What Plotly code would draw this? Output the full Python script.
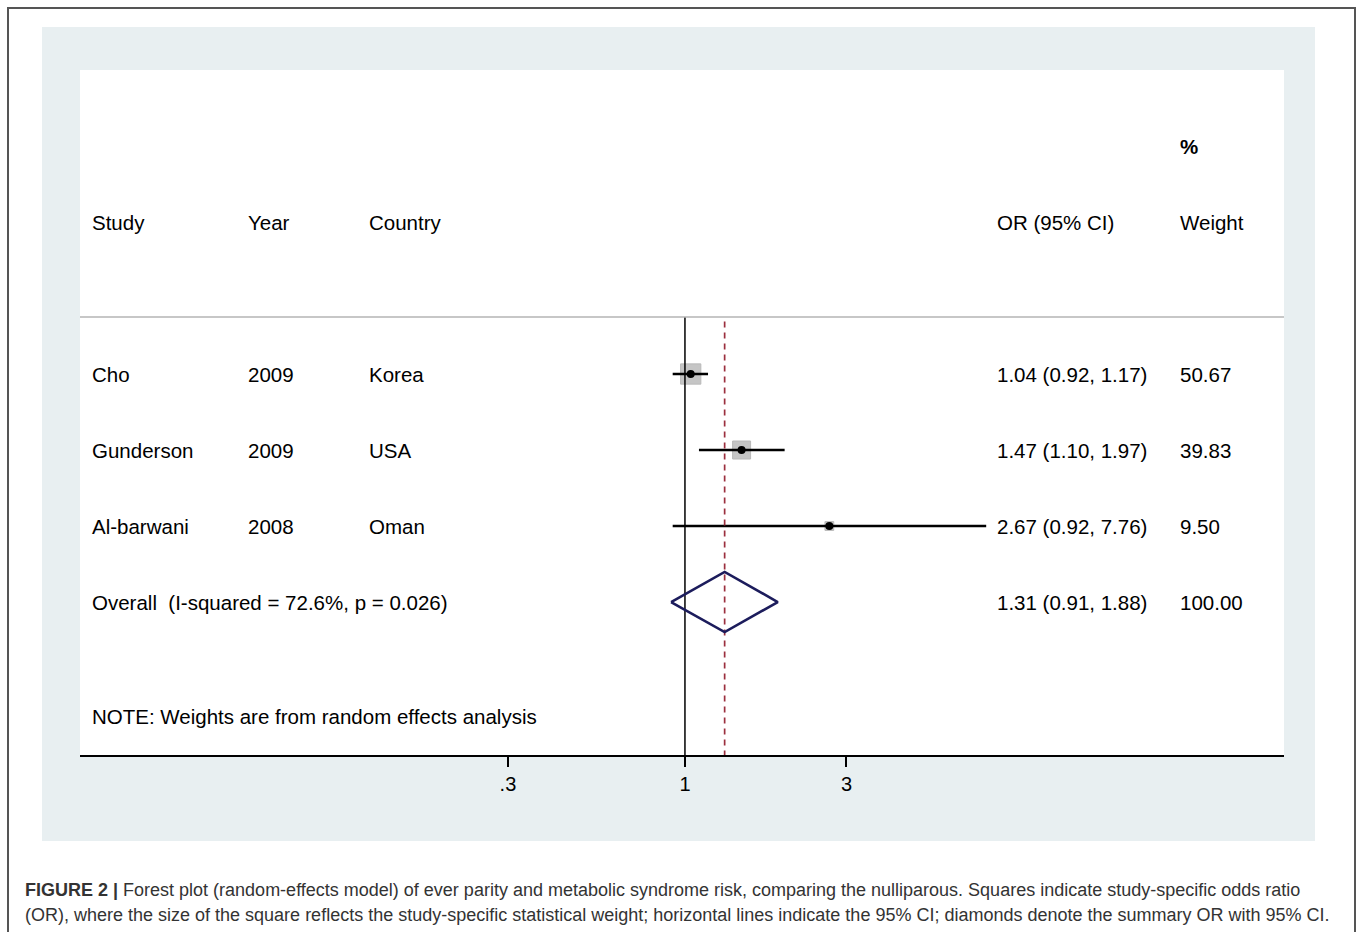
import plotly.graph_objects as go

# ---- data -----------------------------------------------------------------
studies = ["Cho", "Gunderson", "Al-barwani"]
years = ["2009", "2009", "2008"]
countries = ["Korea", "USA", "Oman"]
odds_ratio = [1.04, 1.47, 2.67]
ci_low = [0.92, 1.10, 0.92]
ci_high = [1.17, 1.97, 7.76]
weights = [50.67, 39.83, 9.50]

pooled_or = 1.31
pooled_low = 0.91
pooled_high = 1.88
pooled_label = "Overall&nbsp; (I-squared = 72.6%, p = 0.026)"
note = "NOTE: Weights are from random effects analysis"

tick_vals = [0.3, 1, 3]
tick_text = [".3", "1", "3"]

# ---- geometry helpers (page pixels -> paper coordinates) -------------------
W, H = 1358, 932
L, R, T, B = 80, 1284, 70, 755


def px(x):
    return (x - L) / (R - L)


def py(y):
    return (B - y) / (B - T)


FONT = "Liberation Sans, Arial, sans-serif"
rows = [1, 2, 3]
overall_row = 4

fig = go.Figure()

# weight squares, area proportional to the study weight
fig.add_trace(go.Scatter(
    x=odds_ratio, y=rows, mode="markers",
    marker=dict(symbol="square", size=[2.85 * w ** 0.5 for w in weights],
                color="#adadad", line=dict(color="#9c9c9c", width=1)),
    hoverinfo="skip", showlegend=False))

# confidence-interval lines
for i, r in enumerate(rows):
    fig.add_trace(go.Scatter(
        x=[ci_low[i], ci_high[i]], y=[r, r], mode="lines",
        line=dict(color="black", width=2.6), hoverinfo="skip", showlegend=False))

# point estimates
fig.add_trace(go.Scatter(
    x=odds_ratio, y=rows, mode="markers",
    marker=dict(symbol="circle", size=8, color="black"),
    hoverinfo="skip", showlegend=False))

# null line and pooled estimate line
fig.add_trace(go.Scatter(
    x=[1, 1], y=[0.25, 6.02], mode="lines",
    line=dict(color="black", width=1.5), hoverinfo="skip", showlegend=False))
fig.add_trace(go.Scatter(
    x=[pooled_or, pooled_or], y=[0.31, 6.02], mode="lines",
    line=dict(color="#9b2f3e", width=1.7, dash="6px,5px"),
    hoverinfo="skip", showlegend=False))

# pooled diamond
hh = 0.395
fig.add_trace(go.Scatter(
    x=[pooled_low, pooled_or, pooled_high, pooled_or, pooled_low],
    y=[overall_row, overall_row - hh, overall_row, overall_row + hh, overall_row],
    mode="lines", line=dict(color="#1c1c5c", width=2.6),
    hoverinfo="skip", showlegend=False))

annotations = []


def add_text(x, y, text, size=20.5, color="black", yref="y"):
    annotations.append(dict(
        x=px(x), y=y, xref="paper", yref=yref, text=text, showarrow=False,
        xanchor="left", yanchor="middle",
        font=dict(family=FONT, size=size, color=color)))


# header
add_text(1178, -2.0, "<b>%</b>")
add_text(90, -1.0, "Study")
add_text(246, -1.0, "Year")
add_text(367, -1.0, "Country")
add_text(995, -1.0, "OR (95% CI)")
add_text(1178, -1.0, "Weight")

# study rows
for i, r in enumerate(rows):
    add_text(90, r, studies[i])
    add_text(246, r, years[i])
    add_text(367, r, countries[i])
    add_text(995, r, f"{odds_ratio[i]:.2f} ({ci_low[i]:.2f}, {ci_high[i]:.2f})")
    add_text(1178, r, f"{weights[i]:.2f}")

add_text(90, overall_row, pooled_label)
add_text(995, overall_row, f"{pooled_or:.2f} ({pooled_low:.2f}, {pooled_high:.2f})")
add_text(1178, overall_row, f"{sum(weights):.2f}")
add_text(90, 5.5, note)

# caption
cap1 = ("<b>FIGURE 2 |</b> Forest plot (random-effects model) of ever parity and metabolic "
        "syndrome risk, comparing the nulliparous. Squares indicate study-specific odds ratio")
cap2 = ("(OR), where the size of the square reflects the study-specific statistical weight; "
        "horizontal lines indicate the 95% CI; diamonds denote the summary OR with 95% CI.")
add_text(23, py(890), cap1, size=18, color="#333333", yref="paper")
add_text(23, py(915), cap2, size=18, color="#333333", yref="paper")

shapes = [
    # outer frame
    dict(type="rect", xref="paper", yref="paper", x0=px(8), x1=px(1355),
         y0=py(960), y1=py(8), line=dict(color="#555555", width=2),
         fillcolor="rgba(0,0,0,0)", layer="below"),
    # tinted graph region
    dict(type="rect", xref="paper", yref="paper", x0=px(42), x1=px(1315),
         y0=py(841), y1=py(27), line=dict(width=0), fillcolor="#e8eff1",
         layer="below"),
    # white plot region
    dict(type="rect", xref="paper", yref="paper", x0=0, x1=1, y0=0, y1=1,
         line=dict(width=0), fillcolor="white", layer="below"),
    # header separator
    dict(type="line", xref="paper", yref="y", x0=0, x1=1, y0=0.25, y1=0.25,
         line=dict(color="#b4b4b4", width=1.5)),
]

fig.update_layout(
    width=W, height=H,
    margin=dict(l=L, r=W - R, t=T, b=H - B),
    paper_bgcolor="white", plot_bgcolor="white",
    font=dict(family=FONT, size=20, color="black"),
    xaxis=dict(type="log", range=[-1.787, 1.7696], tickvals=tick_vals,
               ticktext=tick_text, ticks="outside", ticklen=10, tickwidth=1.5,
               tickcolor="black", showline=True, linecolor="black", linewidth=1.5,
               showgrid=False, zeroline=False, tickfont=dict(size=20, color="black"),
               fixedrange=True),
    yaxis=dict(range=[6.013, -3.0], visible=False, showgrid=False,
               zeroline=False, fixedrange=True),
    shapes=shapes,
    annotations=annotations,
    showlegend=False,
)

fig.write_html("out.html")
